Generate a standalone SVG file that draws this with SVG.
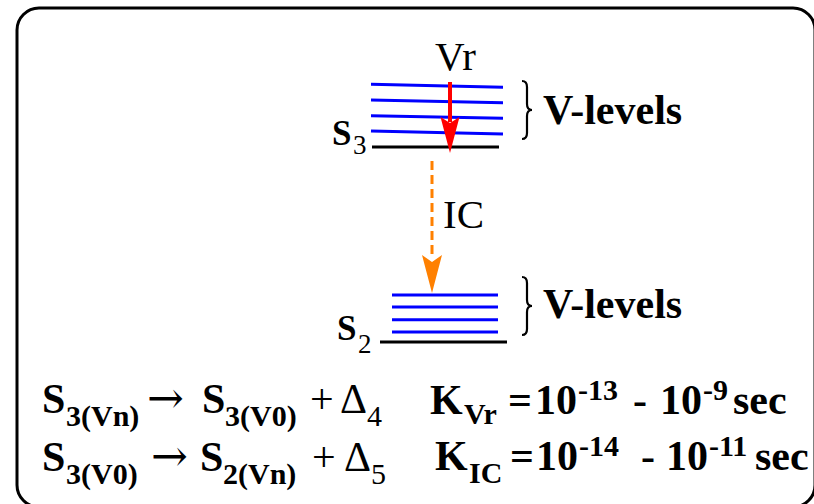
<svg xmlns="http://www.w3.org/2000/svg" width="814" height="504" viewBox="0 0 814 504">
<style>
text{font-family:"Liberation Serif","Times New Roman",serif;fill:#000}
.b{font-weight:bold}
.big{font-size:42px}
.lbl{font-size:41px}
.sub{font-size:30px}
.ks{font-size:30px}
.arr{font-family:"DejaVu Serif",serif;font-size:44px}
.blue{stroke:#0000ff;stroke-width:3;fill:none}
.blk{stroke:#000;stroke-width:3;fill:none}
.brace{stroke:#000;stroke-width:2.2;fill:none}
</style>
<rect x="17" y="8" width="798" height="499" rx="22" ry="22" fill="#fff" stroke="#000" stroke-width="3"/>

<g id="S3">
<line class="blue" x1="371" y1="84.3" x2="503" y2="87.3"/>
<line class="blue" x1="371" y1="100" x2="503" y2="102.7"/>
<line class="blue" x1="371" y1="115.7" x2="503" y2="118.3"/>
<line class="blue" x1="371" y1="131" x2="503" y2="134"/>
<line class="blk" x1="372" y1="147" x2="499" y2="147"/>
<text x="332" y="145" class="b" font-size="35">S</text><text x="353" y="154" font-size="27">3</text>
<path class="brace" d="M522,81 Q527,81 527,87 L527,104 Q527,110 532,110 Q527,110 527,116 L527,133 Q527,139 522,139"/>
<text x="543" y="124" class="b big">V-levels</text>
</g>

<g id="S2">
<line class="blue" x1="392" y1="295" x2="498" y2="295"/>
<line class="blue" x1="392" y1="307" x2="498" y2="307"/>
<line class="blue" x1="392" y1="319.7" x2="498" y2="319.7"/>
<line class="blue" x1="392" y1="332" x2="498" y2="332"/>
<line class="blk" x1="380" y1="342" x2="507" y2="342"/>
<text x="337" y="340" class="b" font-size="35">S</text><text x="358" y="353" font-size="27">2</text>
<path class="brace" d="M522,277 Q527,277 527,283 L527,300 Q527,306 532,306 Q527,306 527,312 L527,329 Q527,335 522,335"/>
<text x="543" y="318" class="b big">V-levels</text>
</g>

<g id="connectors">
<line x1="450" y1="82" x2="450" y2="122" stroke="#ff0000" stroke-width="4"/>
<polygon points="440.5,117 450,123 459.5,117 450,153" fill="#ff0000"/>
<line x1="432" y1="161" x2="432" y2="258" stroke="#ff8000" stroke-width="3" stroke-dasharray="9 5"/>
<polygon points="422,255 432,262 442,255 432,293" fill="#ff8000"/>
<text x="435" y="70" class="lbl">Vr</text>
<text x="443" y="228" class="lbl">IC</text>
</g>

<g id="equations">
<text class="b big" x="42" y="413">S</text>
<text class="b sub" x="66" y="426">3(Vn)</text>
<text class="arr" x="147" y="413">→</text>
<text class="b big" x="202" y="413">S</text>
<text class="b sub" x="225" y="426">3(V0)</text>
<text class="big" x="310" y="413">+</text>
<text class="big" x="340" y="413">Δ</text>
<text class="sub" x="367" y="426">4</text>

<text class="b big" x="42" y="471">S</text>
<text class="b sub" x="66" y="484">3(V0)</text>
<text class="arr" x="151" y="471">→</text>
<text class="b big" x="200" y="471">S</text>
<text class="b sub" x="223" y="484">2(Vn)</text>
<text class="big" x="312" y="471">+</text>
<text class="big" x="344" y="471">Δ</text>
<text class="sub" x="371" y="484">5</text>

<text class="b big" x="430" y="414">K</text>
<text class="b ks" x="464" y="424">Vr</text>
<text class="b big" x="508" y="414">=</text>
<text class="b big" x="535" y="414">10</text>
<text class="b ks" x="578" y="400">-13</text>
<text class="b big" x="633" y="414">-</text>
<text class="b big" x="660" y="414">10</text>
<text class="b ks" x="703" y="400">-9</text>
<text class="b big" x="733" y="414">sec</text>

<text class="b big" x="435" y="470">K</text>
<text class="b ks" x="469" y="483">IC</text>
<text class="b big" x="510" y="470">=</text>
<text class="b big" x="536" y="470">10</text>
<text class="b ks" x="579" y="456">-14</text>
<text class="b big" x="641" y="470">-</text>
<text class="b big" x="666" y="470">10</text>
<text class="b ks" x="709" y="456">-11</text>
<text class="b big" x="755" y="470">sec</text>
</g>
</svg>
